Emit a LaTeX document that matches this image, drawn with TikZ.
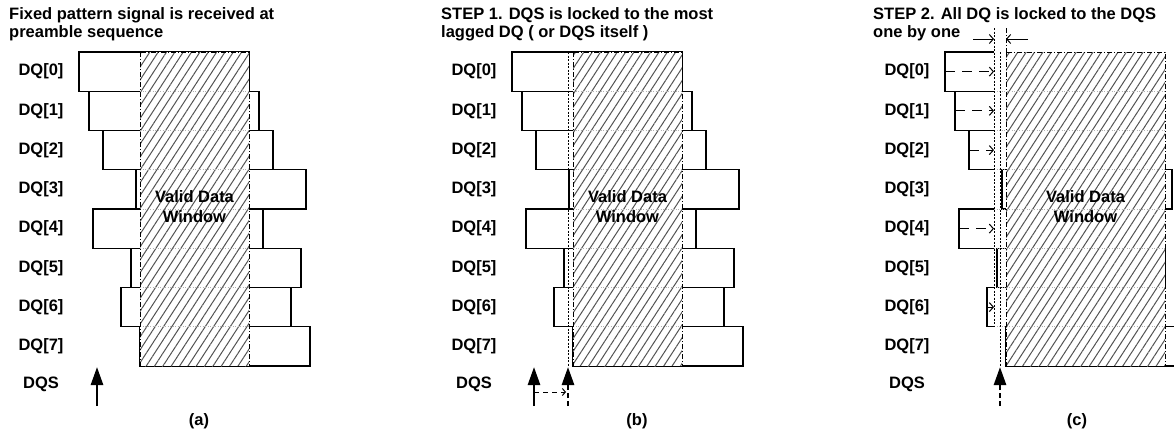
\documentclass[tikz,border=0pt]{standalone}
\usepackage{fontspec}
\setmainfont{Liberation Sans}
\usetikzlibrary{arrows.meta, patterns.meta}

\tikzset{
  lbl/.style={font=\bfseries\fontsize{16.5}{20}\selectfont, inner sep=0pt},
  ttl/.style={lbl, anchor=base west},
  dqbox/.style={line width=1.1pt},
  vdwin/.style={line width=1pt, dash pattern=on 5pt off 2pt on 1pt off 2pt},
  hatch/.style={pattern={Lines[angle=57,distance=7pt,line width=1pt]}, pattern color=gray!65!black},
  rowline/.style={gray!60, line width=1pt, dash pattern=on 1pt off 1.5pt},
  lockline/.style={line width=1pt, dash pattern=on 2pt off 1.5pt},
  dqsarrow/.style={line width=2.6pt, -{Triangle[length=18pt,width=12pt]}},
  dqsmoved/.style={dqsarrow, dash pattern=on 5pt off 3pt},
  shiftarrow/.style={line width=1pt, dash pattern=on 10pt off 7pt, -{Straight Barb[length=4pt,width=9pt]}},
  thinarrow/.style={line width=1pt, -{Straight Barb[length=4pt,width=9pt]}}
}

\begin{document}
\begin{tikzpicture}[x=1pt, y=-1pt]
\useasboundingbox (0,0) rectangle (1174,437);

% Case (a): preamble sequence
\begin{scope}[xshift=0pt]
\node[ttl] (ttla1) at (9,19) {Fixed pattern signal is received at};
\node[ttl] (ttla2) at (9,37) {preamble sequence};
% DQ labels
\foreach \i in {0,...,7}
  \node[lbl] (dqa\i) at (41,{71.6+39.25*\i}) {DQ[\i]};
\node[lbl] (dqsa) at (41,384) {DQS};
% DQ boxes
\foreach \l [count=\i from 0] in {79,89,103,136,93,131,121,140}
  \draw[dqbox] (\l,{52+39.25*\i}) rectangle ++(170,39.25);
% Valid data window
\fill[white] (140,52) rectangle (249,366);
\fill[hatch] (140,52) rectangle (249,366);
\foreach \i in {1,...,7}
  \draw[rowline] (140,{52+39.25*\i}) -- (249,{52+39.25*\i});
\draw[vdwin] (140,52) rectangle (249,366);
\node[lbl, align=center] (vdwa) at (194.5,207) {Valid Data\\Window};
% DQS strobe
\coordinate (dqsra) at (97,406);
\draw[dqsarrow] (dqsra) -- ++(0,-39);
\node[lbl] (capa) at (199,421) {(a)};
\end{scope}

% Case (b): STEP 1
\begin{scope}[xshift=433pt]
\node[ttl] (ttlb1) at (8,19) {STEP 1. DQS is locked to the most};
\node[ttl] (ttlb2) at (8,37) {lagged DQ ( or DQS itself )};
\foreach \i in {0,...,7}
  \node[lbl] (dqb\i) at (41,{71.6+39.25*\i}) {DQ[\i]};
\node[lbl] (dqsb) at (41,384) {DQS};
\foreach \l [count=\i from 0] in {79,89,103,136,93,131,121,140}
  \draw[dqbox] (\l,{52+39.25*\i}) rectangle ++(170,39.25);
\fill[white] (140,52) rectangle (249,366);
\fill[hatch] (140,52) rectangle (249,366);
\foreach \i in {1,...,7}
  \draw[rowline] (140,{52+39.25*\i}) -- (249,{52+39.25*\i});
\draw[vdwin] (140,52) rectangle (249,366);
\node[lbl, align=center] (vdwb) at (194.5,207) {Valid Data\\Window};
% DQS moved to the most lagged DQ
\coordinate (lockb) at (135,52);
\coordinate (dqsrb) at (101,406);
\coordinate (dqsnb) at (135,406);
\draw[lockline] (lockb) -- (135,367);
\draw[dqsarrow] (dqsrb) -- ++(0,-39);
\draw[dqsmoved] (dqsnb) -- ++(0,-39);
\draw[line width=1pt, dash pattern=on 5pt off 4pt, -{Straight Barb[length=3pt,width=7pt]}] (101,392) -- (133,392);
\node[lbl] (capb) at (204,421) {(b)};
\end{scope}

% Case (c): STEP 2
\begin{scope}[xshift=866pt]
\node[ttl] (ttlc1) at (7,19) {STEP 2. All DQ is locked to the DQS};
\node[ttl] (ttlc2) at (7,37) {one by one};
\foreach \i in {0,...,7}
  \node[lbl] (dqc\i) at (41,{71.6+39.25*\i}) {DQ[\i]};
\node[lbl] (dqsc) at (41,384) {DQS};
% DQ shifted onto the DQS
\foreach \l/\i in {79/0,89/1,103/2,93/4,121/6} {
  \draw[dqbox] (128,{52+39.25*\i}) -- (\l,{52+39.25*\i})
    -- (\l,{91.25+39.25*\i}) -- (128,{91.25+39.25*\i});
  \draw[shiftarrow] (\l,{71.6+39.25*\i}) -- (128,{71.6+39.25*\i});
}
\foreach \l/\i/\w in {136/3/170,131/5/168,140/7/170}
  \draw[dqbox] (\l,{52+39.25*\i}) rectangle ++(\w,39.25);
\fill[white] (140,52) rectangle (299,366);
\fill[hatch] (140,52) rectangle (299,366);
\foreach \i in {1,...,7}
  \draw[rowline] (128,{52+39.25*\i}) -- (299,{52+39.25*\i});
\draw[vdwin] (140,52) rectangle (299,366);
\draw[vdwin] (140,28) -- (140,52);
\node[lbl, align=center] (vdwc) at (219.5,207) {Valid Data\\Window};
% lock lines
\coordinate (lockc) at (128,28);
\coordinate (dqslc) at (134,52);
\draw[lockline] (lockc) -- (128,326.75);
\draw[lockline] (dqslc) -- (134,367);
\draw[thinarrow] (107,39) -- (lockc |- 0,39);
\draw[thinarrow] (162,39) -- (140,39);
\coordinate (dqsrc) at (134,406);
\draw[dqsmoved] (dqsrc) -- ++(0,-39);
\node[lbl] (capc) at (211,421) {(c)};
\end{scope}
\end{tikzpicture}
\end{document}
